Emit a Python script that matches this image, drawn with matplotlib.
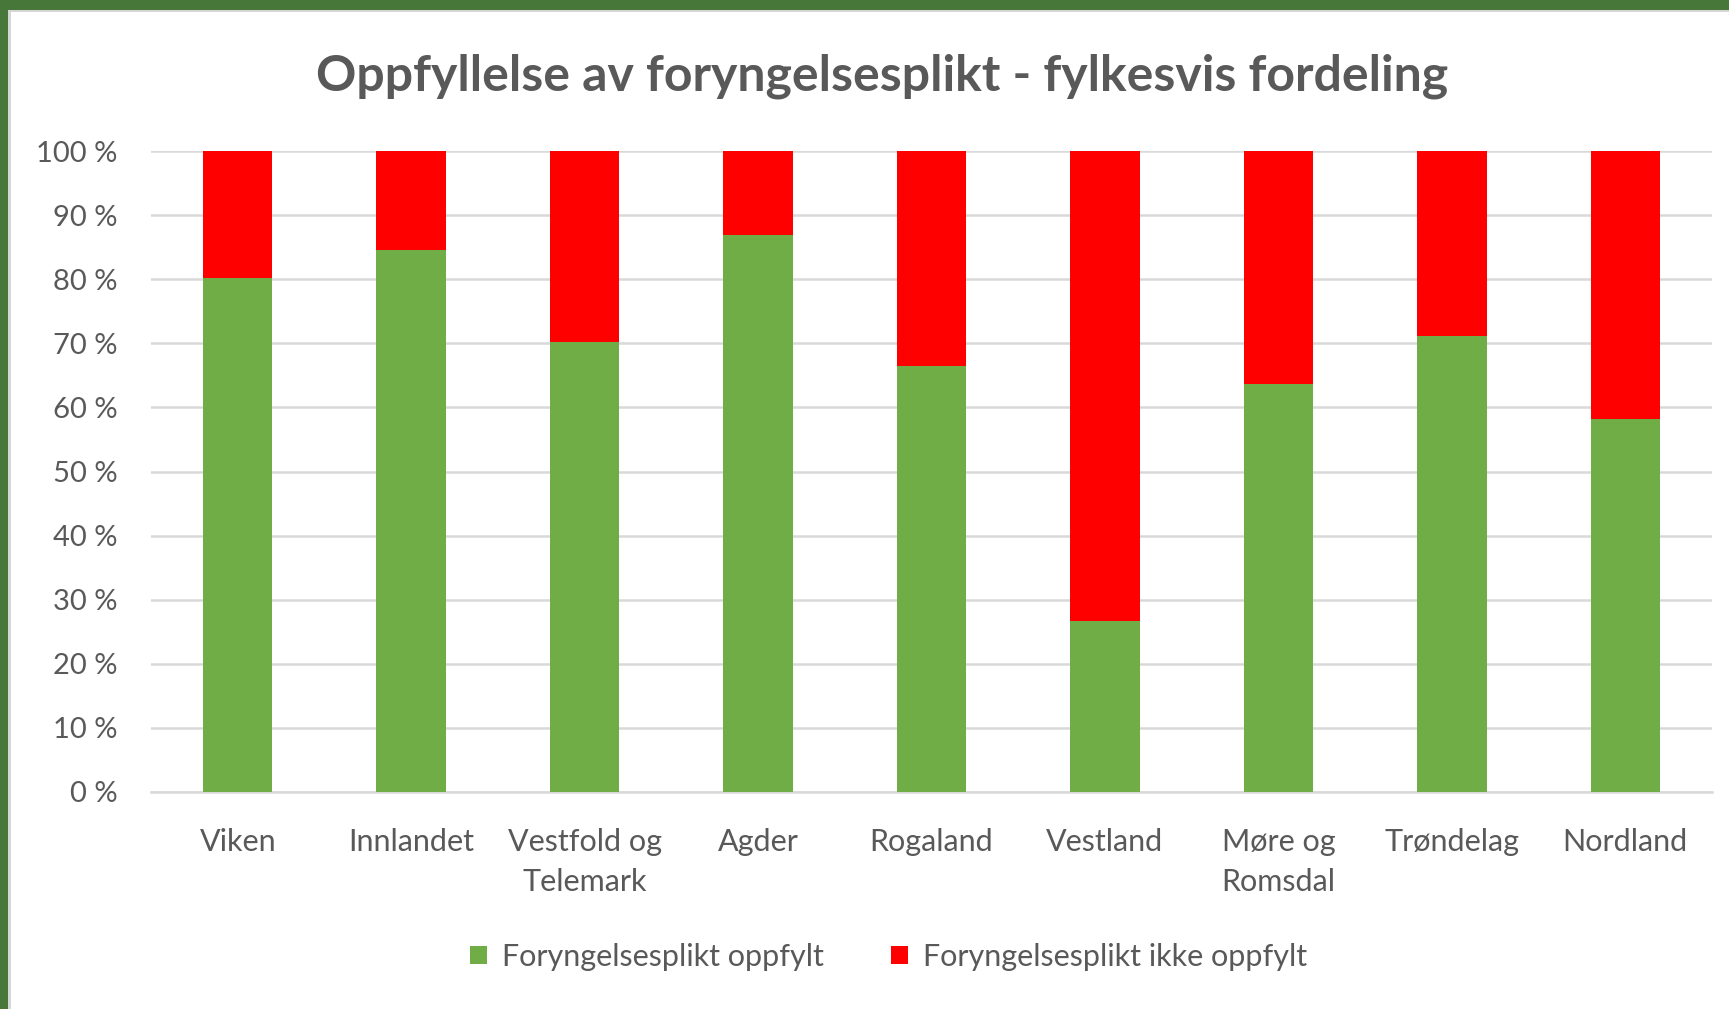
import matplotlib.pyplot as plt
from matplotlib.patches import Rectangle
from matplotlib.ticker import FuncFormatter

# fylker og andel (%) med oppfylt foryngelsesplikt
fylker = ["Viken", "Innlandet", "Vestfold og\nTelemark", "Agder", "Rogaland",
          "Vestland", "Møre og\nRomsdal", "Trøndelag", "Nordland"]
oppfylt = [80.2, 84.6, 70.2, 86.9, 66.4, 26.6, 63.7, 71.2, 58.2]
ikke_oppfylt = [100 - v for v in oppfylt]

serie_navn = ["Foryngelsesplikt oppfylt", "Foryngelsesplikt ikke oppfylt"]
tittel = "Oppfyllelse av foryngelsesplikt - fylkesvis fordeling"

tekstfarge = "#595959"
plt.rcParams['font.family'] = ['Lato', 'DejaVu Sans']

fig = plt.figure(figsize=(17.29, 10.09), dpi=100)
fig.patch.set_facecolor("white")

# ramme: grønn kant oppe og til venstre, grå linje innenfor
W, H = 1729, 1009
fig.add_artist(Rectangle((0, 1 - 10 / H), 1, 10 / H, transform=fig.transFigure,
                         color="#48773a", lw=0))
fig.add_artist(Rectangle((0, 0), 8 / W, 1, transform=fig.transFigure,
                         color="#48773a", lw=0))
fig.add_artist(Rectangle((8 / W, 1 - 12 / H), 1, 2 / H, transform=fig.transFigure,
                         color="#d6d6d6", lw=0))
fig.add_artist(Rectangle((8 / W, 0), 3 / W, 1 - 10 / H, transform=fig.transFigure,
                         color="#d6d6d6", lw=0))

ax = fig.add_axes([151 / W, 1 - 792 / H, (1712 - 151) / W, (792 - 151) / H])

x = range(len(fylker))
ax.bar(x, oppfylt, width=0.4, color="#70ad47", label=serie_navn[0], zorder=3)
ax.bar(x, ikke_oppfylt, width=0.4, bottom=oppfylt, color="#ff0000",
       label=serie_navn[1], zorder=3)

ax.set_ylim(0, 100)
ax.set_xlim(-0.5, len(fylker) - 0.5)
ax.set_yticks(range(0, 101, 10))
ax.yaxis.set_major_formatter(FuncFormatter(lambda v, p: f"{int(v)} %"))
ax.grid(axis="y", color="#d9d9d9", lw=1.8, zorder=0)
ax.set_xticks(list(x))
ax.set_xticklabels(fylker, fontsize=22, color=tekstfarge, linespacing=1.5)
ax.tick_params(axis="y", labelsize=21, labelcolor=tekstfarge, length=0, pad=24)
ax.tick_params(axis="x", length=0, pad=26)
for s in ["top", "right", "left"]:
    ax.spines[s].set_visible(False)
ax.spines["bottom"].set_color("#d9d9d9")
ax.spines["bottom"].set_linewidth(1.8)

fig.text(0.51, 1 - 76 / H, tittel, ha="center", va="center", fontsize=36,
         fontweight="bold", color=tekstfarge)

fig.legend(loc="center", bbox_to_anchor=(0.514, 1 - 957 / H), ncol=2,
           frameon=False, fontsize=22, labelcolor=tekstfarge,
           handlelength=0.55, handleheight=0.55, handletextpad=0.5, columnspacing=2.2)

fig.savefig("out.png", dpi=100)
